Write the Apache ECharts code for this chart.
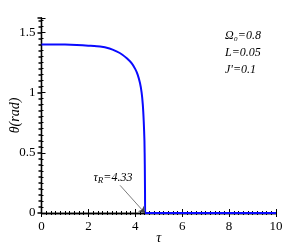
<!DOCTYPE html>
<html>
<head>
<meta charset="utf-8">
<script src="https://cdn.jsdelivr.net/npm/echarts@6/dist/echarts.min.js"></script>
<style>html,body{margin:0;padding:0;background:#fff}#c{width:305px;height:249px}</style>
</head>
<body>
<div id="c"></div>
<script>
var tau   = [0, 0.5, 1.0, 1.5, 2.0, 2.5, 2.9, 3.2, 3.45, 3.65, 3.85, 4.0, 4.1, 4.2, 4.27, 4.32, 4.36, 4.39, 4.405, 4.415, 4.42, 10];
var theta = [1.40, 1.40, 1.399, 1.396, 1.39, 1.383, 1.366, 1.342, 1.315, 1.283, 1.243, 1.195, 1.15, 1.08, 1.0, 0.9, 0.76, 0.6, 0.4, 0.15, 0, 0];
var xTicks = [0, 2, 4, 6, 8, 10];
var yTicks = [0, 0.5, 1, 1.5];
var params = ['Ω₀=0.8', 'L=0.05', "J'=0.1"];
var tauR = 4.33;

var serif = 'Liberation Serif';
var chart = echarts.init(document.getElementById('c'), null, {renderer: 'canvas'});
var axisCommon = {
  axisLine: {show: true, lineStyle: {color: '#000', width: 1.3}},
  splitLine: {show: false},
  axisTick: {show: true, inside: true, length: 4, lineStyle: {color: '#000', width: 1}},
  minorTick: {show: true, splitNumber: 10, length: 2, lineStyle: {color: '#000', width: 1}}
};
var data = tau.map(function (t, i) { return [t, theta[i]]; });
chart.setOption({
  animation: false,
  grid: {left: 41.5, right: 29, top: 18, bottom: 36, containLabel: false, outerBoundsMode: 'none'},
  xAxis: [
    Object.assign({}, axisCommon, {
      type: 'value', min: 0, max: 10, interval: 2, position: 'bottom',
      name: 'τ', nameLocation: 'middle', nameGap: 18, nameMoveOverlap: false,
      nameTextStyle: {fontFamily: serif, fontStyle: 'italic', fontSize: 14, color: '#000'},
      axisLabel: {fontFamily: serif, fontSize: 13, color: '#000', margin: 7,
        formatter: function (v) { return xTicks.indexOf(v) >= 0 ? String(v) : ''; }}
    }),
    Object.assign({}, axisCommon, {
      type: 'value', min: 0, max: 10, interval: 2, position: 'top', axisLabel: {show: false}
    })
  ],
  yAxis: [
    Object.assign({}, axisCommon, {
      type: 'value', min: 0, max: 1.62, interval: 0.5, position: 'left',
      name: 'θ(rad)', nameLocation: 'middle', nameGap: 19, nameMoveOverlap: false,
      nameTextStyle: {fontFamily: serif, fontStyle: 'italic', fontSize: 14, color: '#000'},
      axisLabel: {fontFamily: serif, fontSize: 13, color: '#000', margin: 6,
        formatter: function (v) { return yTicks.indexOf(v) >= 0 ? String(v) : ''; }}
    }),
    Object.assign({}, axisCommon, {
      type: 'value', min: 0, max: 1.62, interval: 0.5, position: 'right', axisLabel: {show: false},
      axisTick: {show: true, inside: true, length: 4, lineStyle: {color: '#000', width: 1.5}},
      minorTick: {show: true, splitNumber: 10, length: 3, lineStyle: {color: '#000', width: 1.5}}
    })
  ],
  series: [{
    type: 'line', data: data, showSymbol: false, symbol: 'none', smooth: 0.2,
    lineStyle: {color: '#0a0aff', width: 2},
    markLine: {
      silent: true, symbol: ['none', 'arrow'], symbolSize: 6,
      lineStyle: {color: '#444', width: 0.7, type: 'solid'},
      label: {show: false},
      data: [[{coord: [3.35, 0.23]}, {coord: [4.41, 0.0]}]]
    },
    markPoint: {
      symbol: 'circle', symbolSize: 0,
      data: [{coord: [3.05, 0.29], value: tauR}],
      label: {show: true, position: 'inside', color: '#000',
        formatter: function (p) { return '{t|τ}{s|R}{t|=' + p.value + '}'; },
        rich: {
          t: {fontFamily: serif, fontStyle: 'italic', fontSize: 12, color: '#000'},
          s: {fontFamily: serif, fontStyle: 'italic', fontSize: 9, color: '#000', padding: [6, 0, 0, 0]}
        }}
    }
  }],
  graphic: params.map(function (s, i) {
    return {type: 'text', left: 225, top: 30 + i * 17,
      style: {text: s, fontFamily: serif, fontStyle: 'italic', fontSize: 12, fill: '#000'}};
  })
});
</script>
</body>
</html>
